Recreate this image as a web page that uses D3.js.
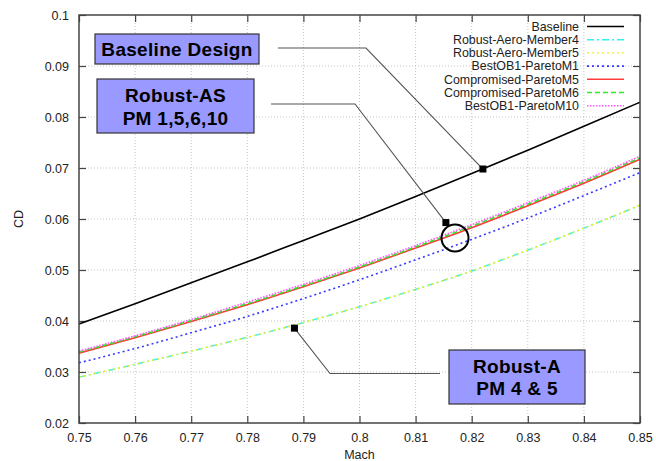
<!DOCTYPE html>
<html>
<head>
<meta charset="utf-8">
<script src="https://cdn.jsdelivr.net/npm/d3@7"></script>
<style>
  html, body { margin: 0; padding: 0; background: #fff; }
  svg { display: block; }
  text { font-family: "Liberation Sans", Arial, Helvetica, sans-serif; }
</style>
</head>
<body>
<svg id="chart" width="656" height="461"></svg>
<script>
// Mach sweep and drag coefficient of each design
const mach = [0.75, 0.76, 0.77, 0.78, 0.79, 0.80, 0.81, 0.82, 0.83, 0.84, 0.85];

const baseline          = [0.0394, 0.0434, 0.0475, 0.0516, 0.0558, 0.0600, 0.0644, 0.0689, 0.0735, 0.0782, 0.0829];
const robustAeroMember4 = [0.0290, 0.0315, 0.0341, 0.0368, 0.0397, 0.0428, 0.0462, 0.0498, 0.0539, 0.0582, 0.0627];
const robustAeroMember5 = [0.0290, 0.0315, 0.0341, 0.0368, 0.0397, 0.0428, 0.0462, 0.0498, 0.0539, 0.0582, 0.0627];
const bestOB1ParetoM1   = [0.0318, 0.0346, 0.0377, 0.0409, 0.0444, 0.0481, 0.0520, 0.0560, 0.0602, 0.0646, 0.0691];
const compParetoM5      = [0.0337, 0.0367, 0.0399, 0.0432, 0.0467, 0.0504, 0.0543, 0.0583, 0.0626, 0.0670, 0.0717];
const compParetoM6      = [0.0339, 0.0369, 0.0401, 0.0434, 0.0469, 0.0506, 0.0545, 0.0586, 0.0629, 0.0673, 0.0720];
const bestOB1ParetoM10  = [0.0341, 0.0371, 0.0403, 0.0437, 0.0472, 0.0509, 0.0548, 0.0589, 0.0632, 0.0676, 0.0723];

const seriesNames = ["Baseline", "Robust-Aero-Member4", "Robust-Aero-Member5", "BestOB1-ParetoM1",
                     "Compromised-ParetoM5", "Compromised-ParetoM6", "BestOB1-ParetoM10"];
const seriesValues = [baseline, robustAeroMember4, robustAeroMember5, bestOB1ParetoM1,
                      compParetoM5, compParetoM6, bestOB1ParetoM10];

const xTicks = [0.75, 0.76, 0.77, 0.78, 0.79, 0.80, 0.81, 0.82, 0.83, 0.84, 0.85];
const xTickLabels = ["0.75", "0.76", "0.77", "0.78", "0.79", "0.8", "0.81", "0.82", "0.83", "0.84", "0.85"];
const yTicks = [0.02, 0.03, 0.04, 0.05, 0.06, 0.07, 0.08, 0.09, 0.10];
const yTickLabels = ["0.02", "0.03", "0.04", "0.05", "0.06", "0.07", "0.08", "0.09", "0.1"];

// Callout markers (Mach, CD)
const markerBaseline = [0.822, 0.0698];
const markerRobustAS = [0.8154, 0.0593];
const markerRobustA  = [0.7884, 0.0386];

// Line styles per series
const styles = [
  { color: "#000000", dash: null,      width: 1.6 },
  { color: "#30f0f0", dash: "7,3,2,3", width: 1.4 },
  { color: "#f0f020", dash: "2,3",     width: 1.4 },
  { color: "#3a3aff", dash: "2,3",     width: 1.6 },
  { color: "#ff3a3a", dash: null,      width: 1.6 },
  { color: "#2ee82e", dash: "5,3",     width: 1.6 },
  { color: "#ff55ff", dash: "1.5,1.5", width: 1.6 }
];

const svg = d3.select("#chart");
const margin = { left: 79, right: 16, top: 15, bottom: 38 };
const W = 656, H = 461;

const x = d3.scaleLinear().domain([0.75, 0.85]).range([margin.left, W - margin.right]);
const y = d3.scaleLinear().domain([0.02, 0.10]).range([H - margin.bottom, margin.top]);

// grid
const grid = svg.append("g");
grid.selectAll("line.gx").data(xTicks.slice(1, -1)).join("line")
  .attr("x1", d => x(d)).attr("x2", d => x(d))
  .attr("y1", y(0.02)).attr("y2", y(0.10))
  .attr("stroke", "#c4c4c4").attr("stroke-width", 1).attr("stroke-dasharray", "1,2");
grid.selectAll("line.gy").data(yTicks.slice(1, -1)).join("line")
  .attr("y1", d => y(d)).attr("y2", d => y(d))
  .attr("x1", x(0.75)).attr("x2", x(0.85))
  .attr("stroke", "#c4c4c4").attr("stroke-width", 1).attr("stroke-dasharray", "1,2");

// axes with inward ticks, mirrored on the opposite side
const tickLen = 7;
const axB = d3.axisBottom(x).tickValues(xTicks).tickSizeInner(-tickLen).tickSizeOuter(0)
  .tickFormat((d, i) => xTickLabels[i]).tickPadding(10);
const axL = d3.axisLeft(y).tickValues(yTicks).tickSizeInner(-tickLen).tickSizeOuter(0)
  .tickFormat((d, i) => yTickLabels[i]).tickPadding(10);
const axT = d3.axisTop(x).tickValues(xTicks).tickSizeInner(-tickLen).tickSizeOuter(0).tickFormat("");
const axR = d3.axisRight(y).tickValues(yTicks).tickSizeInner(-tickLen).tickSizeOuter(0).tickFormat("");

function styleAxis(g) {
  g.select(".domain").remove();
  g.selectAll(".tick line").attr("stroke", "#444").attr("stroke-width", 1.2);
  g.selectAll(".tick text").attr("fill", "#222").style("font-size", "12.5px")
    .style("font-family", "'Liberation Sans', Arial, sans-serif");
}
svg.append("g").attr("transform", `translate(0,${y(0.02)})`).call(axB).call(styleAxis);
svg.append("g").attr("transform", `translate(${x(0.75)},0)`).call(axL).call(styleAxis);
svg.append("g").attr("transform", `translate(0,${y(0.10)})`).call(axT).call(styleAxis);
svg.append("g").attr("transform", `translate(${x(0.85)},0)`).call(axR).call(styleAxis);

// axis titles
svg.append("text").attr("x", (x(0.75) + x(0.85)) / 2).attr("y", 459)
  .attr("text-anchor", "middle").style("font-size", "12.5px").attr("fill", "#222").text("Mach");
svg.append("text").attr("transform", `translate(23,${(y(0.02) + y(0.10)) / 2}) rotate(-90)`)
  .attr("text-anchor", "middle").style("font-size", "12.5px").attr("fill", "#222").text("CD");

// series
const line = d3.line().x((d, i) => x(mach[i])).y(d => y(d)).curve(d3.curveMonotoneX);
const plot = svg.append("g");
seriesValues.forEach((vals, k) => {
  const s = styles[k];
  plot.append("path").datum(vals).attr("d", line)
    .attr("fill", "none").attr("stroke", s.color).attr("stroke-width", s.width)
    .attr("stroke-dasharray", s.dash);
});

// frame
svg.append("rect").attr("x", x(0.75)).attr("y", y(0.10))
  .attr("width", x(0.85) - x(0.75)).attr("height", y(0.02) - y(0.10))
  .attr("fill", "none").attr("stroke", "#444").attr("stroke-width", 1.5);

// legend
const legend = svg.append("g");
seriesNames.forEach((name, k) => {
  const ly = 26.5 + k * 13.2;
  const s = styles[k];
  legend.append("text").attr("x", 579).attr("y", ly + 4.3).attr("text-anchor", "end")
    .style("font-size", "12.4px").attr("fill", "#222").text(name);
  legend.append("line").attr("x1", 587).attr("x2", 624).attr("y1", ly).attr("y2", ly)
    .attr("stroke", s.color).attr("stroke-width", s.width).attr("stroke-dasharray", s.dash);
});

// callouts
const ann = svg.append("g");
function leader(points) {
  ann.append("path").attr("d", d3.line()(points))
    .attr("fill", "none").attr("stroke", "#555").attr("stroke-width", 1.1);
}
function marker(p) {
  ann.append("rect").attr("x", x(p[0]) - 3.5).attr("y", y(p[1]) - 3.5)
    .attr("width", 7).attr("height", 7).attr("fill", "#000");
}
function box(x0, y0, w, h, lines, baselines) {
  ann.append("rect").attr("x", x0).attr("y", y0).attr("width", w).attr("height", h)
    .attr("fill", "#9999ff").attr("stroke", "#333").attr("stroke-width", 1.2);
  lines.forEach((t, i) => {
    ann.append("text").attr("x", x0 + w / 2).attr("y", baselines[i]).attr("text-anchor", "middle")
      .style("font-size", "19px").style("font-weight", "bold").style("letter-spacing", "0.3px")
      .attr("fill", "#000").text(t);
  });
}

// Baseline Design
leader([[278, 48], [366, 48], [x(markerBaseline[0]), y(markerBaseline[1])]]);
marker(markerBaseline);
box(95, 34, 164, 30, ["Baseline Design"], [55.5]);

// Robust-AS
leader([[271, 104], [355, 104], [x(markerRobustAS[0]), y(markerRobustAS[1])]]);
marker(markerRobustAS);
ann.append("circle").attr("cx", 455).attr("cy", 238).attr("r", 13.5)
  .attr("fill", "none").attr("stroke", "#000").attr("stroke-width", 2);
box(97, 79, 157, 54, ["Robust-AS", "PM 1,5,6,10"], [101.5, 125]);

// Robust-A
leader([[x(markerRobustA[0]), y(markerRobustA[1])], [330, 373.5], [440, 373.5]]);
marker(markerRobustA);
box(449, 350, 136, 54, ["Robust-A", "PM 4 & 5"], [372.5, 395]);
</script>
</body>
</html>
